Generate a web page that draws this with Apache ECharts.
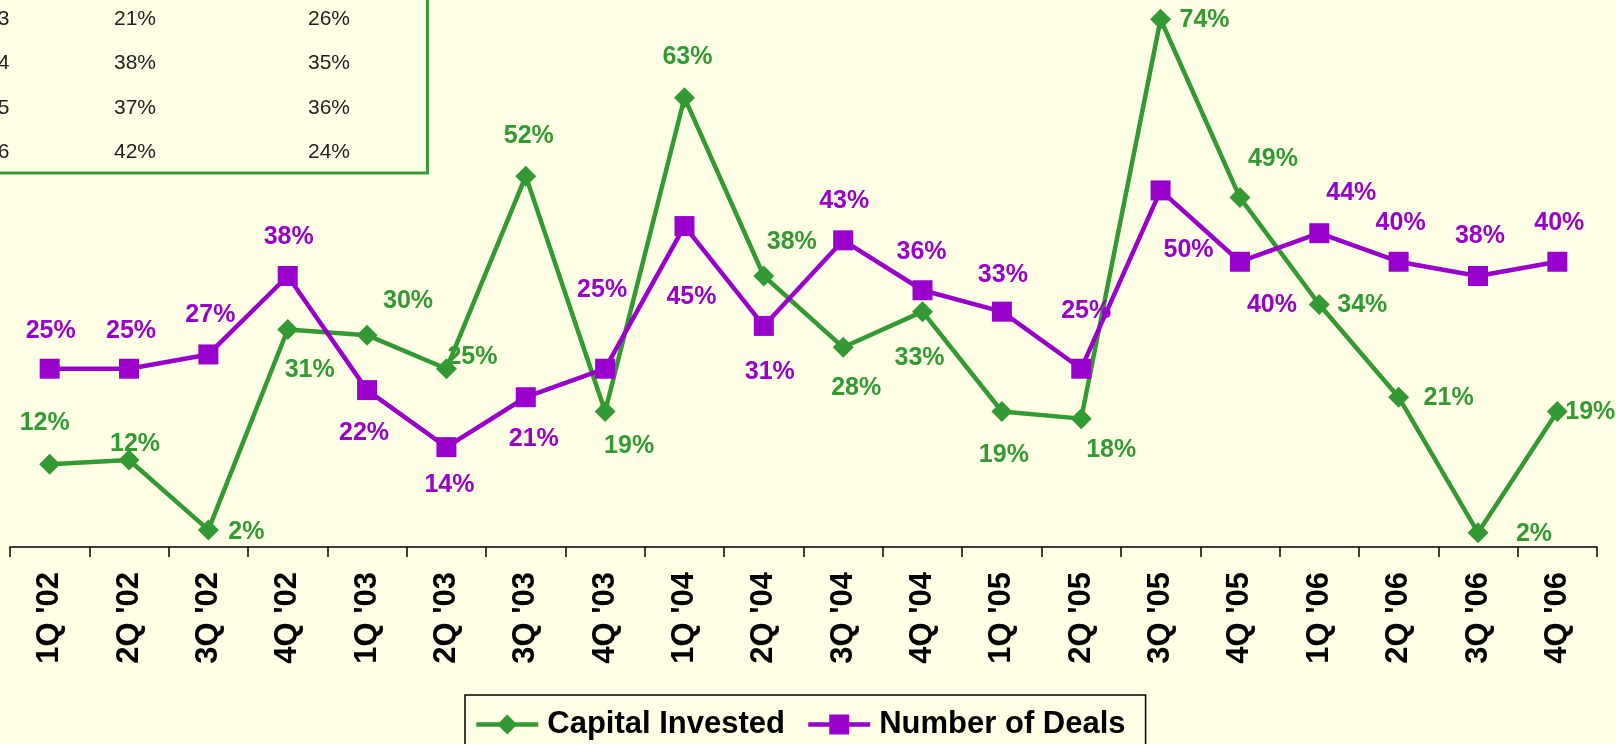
<!DOCTYPE html>
<html>
<head>
<meta charset="utf-8">
<script src="https://cdn.jsdelivr.net/npm/echarts@6/dist/echarts.min.js"></script>
<style>
html,body{margin:0;padding:0;background:#FFFFE6;}
#chart{width:1616px;height:744px;}
</style>
</head>
<body>
<div id="chart"></div>
<script>
const categories = ["1Q '02","2Q '02","3Q '02","4Q '02","1Q '03","2Q '03","3Q '03","4Q '03","1Q '04","2Q '04","3Q '04","4Q '04","1Q '05","2Q '05","3Q '05","4Q '05","1Q '06","2Q '06","3Q '06","4Q '06"];
const capitalInvested = [11.6, 12.2, 2.4, 30.5, 29.7, 25, 52, 19, 63, 38, 28, 33, 19, 18, 74, 49, 34, 21, 2, 19];
const numberOfDeals = [25, 25, 27, 38, 22, 14, 21, 25, 45, 31, 43, 36, 33, 25, 50, 40, 44, 40, 38, 40];

const tableYears = ['2003', '2004', '2005', '2006'];
const tableCapital = ['21%', '38%', '37%', '42%'];
const tableDeals = ['26%', '35%', '36%', '24%'];

// label placement relative to each marker
const capLabelOffset = [[-5,-41],[6,-16],[38,2],[22,41],[41,-34],[26,-12],[3,-40],[24,35],[3,-41],[28,-34],[13,41],[-3,46],[2,44],[30,31],[44,1],[33,-38],[43,1],[50,1],[56,1],[33,1]];
const dealLabelOffset = [[1,-38],[2,-38],[2,-39],[1,-39],[-3,43],[3,38],[8,42],[-3,-79],[7,71],[6,46],[1,-39],[-1,-38],[1,-37],[5,-58],[28,60],[32,43],[32,-40],[2,-39],[2,-40],[2,-39]];

const GREEN = '#339933';
const PURPLE = '#9900CC';
const FONT = "'Liberation Sans', Arial, sans-serif";

const chart = echarts.init(document.getElementById('chart'));

const tableRowY = [19, 63.5, 108, 152.5];
const tableChildren = [{
  type: 'rect',
  shape: { x: -20, y: -20, width: 447.5, height: 193 },
  style: { fill: 'none', stroke: '#3A9A3A', lineWidth: 3 }
}];
const cellStyle = (text, x, y, align) => ({
  type: 'text', x: x, y: y,
  style: { text: text, fill: '#222', fontSize: 21, fontFamily: FONT, align: align, verticalAlign: 'middle' }
});
tableYears.forEach((t, i) => {
  tableChildren.push(cellStyle(t, 9.5, tableRowY[i], 'right'));
  tableChildren.push(cellStyle(tableCapital[i], 114, tableRowY[i], 'left'));
  tableChildren.push(cellStyle(tableDeals[i], 308, tableRowY[i], 'left'));
});

const labelFmt = p => Math.round(p.value) + '%';

chart.setOption({
  backgroundColor: '#FFFFE6',
  animation: false,
  textStyle: { fontFamily: FONT },
  grid: { left: 10, right: 19, top: 0, bottom: 197, containLabel: false },
  xAxis: {
    type: 'category',
    data: categories,
    boundaryGap: true,
    axisLine: { lineStyle: { color: '#000', width: 1.5 } },
    axisTick: { show: true, length: 10, lineStyle: { color: '#000', width: 1.5 } },
    axisLabel: { rotate: 90, margin: 25, color: '#000', fontSize: 31, fontWeight: 'bold', fontFamily: FONT, interval: 0 }
  },
  yAxis: {
    type: 'value', min: 0, max: 76.7, show: false,
    splitLine: { show: false }
  },
  legend: {
    data: ['Capital Invested', 'Number of Deals'],
    left: 465, top: 695,
    orient: 'horizontal',
    padding: [14, 20, 40, 9],
    borderColor: '#000', borderWidth: 1.5,
    itemWidth: 62, itemHeight: 25, itemGap: 21,
    lineStyle: { width: 4.5 },
    textStyle: { color: '#000', fontSize: 31, fontWeight: 'bold', fontFamily: FONT, padding: [0, 0, 0, 4] }
  },
  graphic: [{ type: 'group', x: 0, y: 0, children: tableChildren, z: 100 }],
  series: [
    {
      name: 'Capital Invested',
      type: 'line',
      z: 2,
      data: capitalInvested.map((v, i) => ({ value: v, label: { offset: capLabelOffset[i] } })),
      symbol: 'diamond', symbolSize: [21, 21],
      lineStyle: { color: GREEN, width: 4.5 },
      itemStyle: { color: GREEN },
      label: { show: true, position: 'inside', formatter: labelFmt, color: GREEN, fontSize: 25, fontWeight: 'bold', fontFamily: FONT }
    },
    {
      name: 'Number of Deals',
      type: 'line',
      z: 3,
      data: numberOfDeals.map((v, i) => ({ value: v, label: { offset: dealLabelOffset[i] } })),
      symbol: 'rect', symbolSize: 20,
      lineStyle: { color: PURPLE, width: 4.5 },
      itemStyle: { color: PURPLE },
      label: { show: true, position: 'inside', formatter: labelFmt, color: PURPLE, fontSize: 25, fontWeight: 'bold', fontFamily: FONT }
    }
  ]
});
</script>
</body>
</html>
